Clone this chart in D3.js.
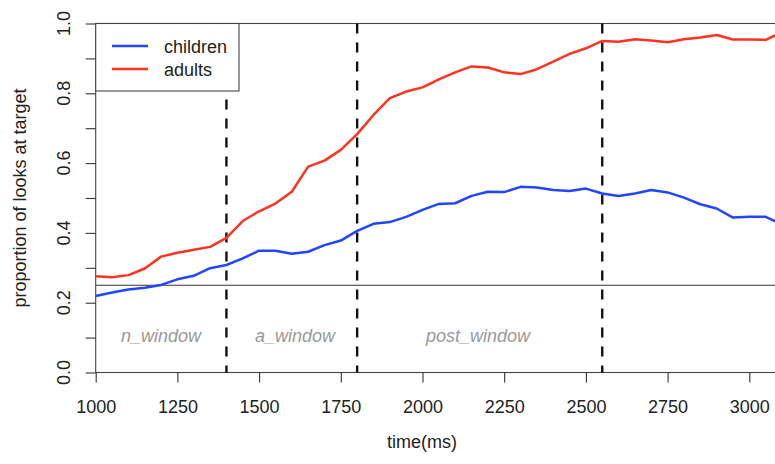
<!DOCTYPE html>
<html>
<head>
<meta charset="utf-8">
<script src="https://cdn.jsdelivr.net/npm/d3@7"></script>
<style>
  html, body { margin: 0; padding: 0; background: #fff; }
  svg { display: block; }
  text { font-family: "Liberation Sans", Arial, Helvetica, sans-serif; }
</style>
</head>
<body>
<svg id="chart" width="775" height="464"></svg>
<script>
// ---- data ----
const times = [1000,1050,1100,1150,1200,1250,1300,1350,1400,1450,1500,1550,1600,1650,1700,1750,1800,1850,1900,1950,2000,2050,2100,2150,2200,2250,2300,2350,2400,2450,2500,2550,2600,2650,2700,2750,2800,2850,2900,2950,3000,3050,3100];
const children = [0.219,0.229,0.238,0.243,0.251,0.267,0.277,0.299,0.308,0.327,0.349,0.349,0.340,0.346,0.365,0.378,0.406,0.426,0.431,0.446,0.466,0.483,0.485,0.506,0.518,0.517,0.532,0.530,0.523,0.520,0.527,0.513,0.506,0.513,0.523,0.516,0.501,0.482,0.470,0.444,0.446,0.446,0.425];
const adults = [0.276,0.273,0.279,0.298,0.332,0.343,0.352,0.360,0.386,0.434,0.462,0.484,0.518,0.590,0.607,0.638,0.683,0.738,0.786,0.805,0.817,0.840,0.860,0.877,0.874,0.860,0.855,0.869,0.891,0.913,0.929,0.950,0.948,0.955,0.951,0.946,0.955,0.960,0.967,0.954,0.954,0.953,0.975];
const seriesNames = ["children", "adults"];
const seriesColors = ["#2146ff", "#ff3322"];
const xTicks = [1000,1250,1500,1750,2000,2250,2500,2750,3000];
const yTicks = [0,0.1,0.2,0.3,0.4,0.5,0.6,0.7,0.8,0.9,1.0];
const yLabels = [0,0.2,0.4,0.6,0.8,1.0];
const windowBounds = [1400, 1800, 2550];
const chanceLevel = 0.25;
const windowLabels = ["n_window", "a_window", "post_window"];
const windowLabelX = [1200, 1610, 2170];
const windowLabelY = 0.1;

// ---- layout ----
const svg = d3.select("#chart");
const padL = 95.7, padT = 23.5, padB = 372.5;
const x = d3.scaleLinear().domain([1000, 3100]).range([padL, padL + 2100 * 0.3268]);
const y = d3.scaleLinear().domain([0, 1]).range([padB, padT]);
const xMax = x(3100);

// box
svg.append("rect")
  .attr("x", padL).attr("y", padT)
  .attr("width", xMax - padL).attr("height", padB - padT)
  .attr("fill", "none").attr("stroke", "#444").attr("stroke-width", 1.1);

// chance line
svg.append("line")
  .attr("x1", padL).attr("x2", xMax)
  .attr("y1", y(chanceLevel)).attr("y2", y(chanceLevel))
  .attr("stroke", "#333").attr("stroke-width", 1.1);

// dashed window lines
svg.selectAll("line.win").data(windowBounds).enter().append("line")
  .attr("class", "win")
  .attr("x1", d => x(d)).attr("x2", d => x(d))
  .attr("y1", y(1)).attr("y2", y(0))
  .attr("stroke", "#111").attr("stroke-width", 2.4)
  .attr("stroke-dasharray", "10,9");

// series lines
const series = [children, adults];
const line = d3.line().x((d, i) => x(times[i])).y(d => y(d));
series.forEach((s, k) => {
  svg.append("path")
    .attr("d", line(s))
    .attr("fill", "none")
    .attr("stroke", seriesColors[k])
    .attr("stroke-width", 2.5)
    .attr("stroke-linejoin", "round");
});

// window labels
svg.selectAll("text.wl").data(windowLabels).enter().append("text")
  .attr("class", "wl")
  .attr("x", (d, i) => x(windowLabelX[i]))
  .attr("y", y(windowLabelY))
  .attr("dy", "0.27em")
  .attr("text-anchor", "middle")
  .attr("font-style", "italic")
  .attr("font-size", 18)
  .attr("fill", "#999")
  .text(d => d);

// x axis
const xAxis = svg.append("g")
  .attr("transform", `translate(0,${padB})`)
  .call(d3.axisBottom(x).tickValues(xTicks).tickSize(10).tickPadding(17.7).tickFormat(d3.format("d")));
xAxis.select(".domain").remove();
xAxis.selectAll(".tick line").attr("stroke", "#333").attr("stroke-width", 1.1);
xAxis.selectAll("text").attr("font-size", 18).attr("fill", "#222")
  .attr("font-family", "Liberation Sans, Arial, sans-serif");

// y axis ticks
const yAxis = svg.append("g")
  .attr("transform", `translate(${padL},0)`)
  .call(d3.axisLeft(y).tickValues(yTicks).tickSize(10).tickFormat(""));
yAxis.select(".domain").remove();
yAxis.selectAll(".tick line").attr("stroke", "#333").attr("stroke-width", 1.1);

// y labels (rotated)
svg.selectAll("text.yl").data(yLabels).enter().append("text")
  .attr("class", "yl")
  .attr("transform", d => `translate(70,${y(d)}) rotate(-90)`)
  .attr("text-anchor", "middle")
  .attr("font-size", 18).attr("fill", "#222")
  .text(d => d3.format(".1f")(d));

// axis titles
svg.append("text")
  .attr("x", 422).attr("y", 448)
  .attr("text-anchor", "middle")
  .attr("font-size", 18).attr("fill", "#222")
  .text("time(ms)");
svg.append("text")
  .attr("transform", `translate(26,${(padT + padB) / 2}) rotate(-90)`)
  .attr("text-anchor", "middle")
  .attr("font-size", 18).attr("fill", "#222")
  .text("proportion of looks at target");

// legend
const lg = svg.append("g");
lg.append("rect")
  .attr("x", padL).attr("y", padT)
  .attr("width", 239 - padL).attr("height", 91 - padT)
  .attr("fill", "#fff").attr("stroke", "#444").attr("stroke-width", 1.1);
const legY = [46, 69];
seriesNames.forEach((n, k) => {
  lg.append("line")
    .attr("x1", 112).attr("x2", 148)
    .attr("y1", legY[k]).attr("y2", legY[k])
    .attr("stroke", seriesColors[k]).attr("stroke-width", 2.5);
  lg.append("text")
    .attr("x", 164).attr("y", legY[k] + 7)
    .attr("font-size", 18).attr("fill", "#222")
    .text(n);
});
</script>
</body>
</html>
